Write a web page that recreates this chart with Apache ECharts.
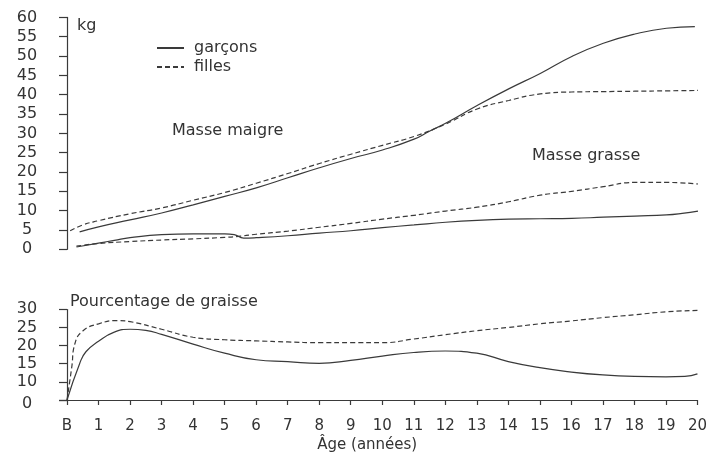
<!DOCTYPE html>
<html><head><meta charset="utf-8">
<script src="https://cdn.jsdelivr.net/npm/echarts@6/dist/echarts.min.js"></script>
<style>html,body{margin:0;padding:0;background:#fff}#c{width:710px;height:454px}</style>
</head><body><div id="c"></div>
<script>
// x tick labels (age in years, B = birth)
const xTickLabels = ['B','1','2','3','4','5','6','7','8','9','10','11','12','13','14','15','16','17','18','19','20'];
// bottom y tick labels shown (axis is broken between 0 and 10)
const pctTickLabels = ['0','10','15','20','25','30'];

// Masse maigre (kg)
const maigreGarconsAges = [0.4,1,2,3,4,5,6,7,8,9,10,11,11.5,12,13,14,15,16,17,18,19,19.9];
const maigreGarcons     = [4.5,5.8,7.6,9.4,11.5,13.7,15.9,18.5,21.1,23.5,25.7,28.5,30.6,32.6,37.2,41.5,45.5,49.9,53.3,55.7,57.2,57.6];
const maigreFillesAges  = [0.1,0.5,1,2,3,4,5,6,7,8,9,10,11,12,13,14,15,16,17,18,19,20];
const maigreFilles      = [4.8,6.3,7.4,9.2,10.7,12.7,14.7,17.1,19.6,22.2,24.6,26.9,29.2,32.4,36.3,38.5,40.2,40.7,40.8,40.9,41.0,41.1];

// Masse grasse (kg)
const grasseGarconsAges = [0.3,1,1.5,2,3,4,5,5.3,5.6,6,7,8,9,10,11,12,13,14,15,16,17,18,19,19.5,20];
const grasseGarcons     = [0.6,1.6,2.3,3.0,3.8,4.0,4.0,3.8,2.9,3.0,3.5,4.2,4.8,5.6,6.3,7.0,7.5,7.8,7.9,8.0,8.3,8.6,8.9,9.3,9.9];
const grasseFillesAges  = [0.3,1,2,3,4,5,5.5,6,7,8,9,10,11,12,13,14,15,16,17,18,19,20];
const grasseFilles      = [0.8,1.5,2.0,2.4,2.7,3.1,3.4,3.9,4.7,5.7,6.7,7.8,8.8,9.9,10.9,12.3,14.0,15.0,16.2,17.3,17.3,16.9];

// Pourcentage de graisse (%)
const pctGarconsAges = [0,0.4,0.6,1,1.5,2,2.5,3,4,5,6,7,8,9,10,11,12,13,14,15,16,17,18,19,19.6,20];
const pctGarcons     = [0,15,18.3,21.2,23.7,24.5,24.2,23.1,20.4,17.9,16.1,15.6,15.1,15.9,17.1,18.1,18.5,17.9,15.6,13.9,12.7,11.9,11.5,11.4,11.5,12.2];
const pctFillesAges  = [0,0.15,0.25,0.5,1,1.6,2,3,4,5,6,7,8,9,10,11,12,13,14,15,16,17,18,19,20];
const pctFilles      = [0,14,20.5,24,26,26.9,26.6,24.5,22.3,21.6,21.3,21.0,20.8,20.8,20.8,21.8,23.0,24.1,25.0,26.0,26.8,27.7,28.5,29.3,29.7];

const zip = (a, b) => a.map((x, i) => [x, b[i]]);
const INK = '#3a3a3a';
const FONT = 'DejaVu Sans';
const solid = {color: INK, width: 1.2, type: 'solid'};
const dashed = {color: INK, width: 1.2, type: [5, 3]};
function line(name, data, ls, xi, yi) {
  return {name, type: 'line', data, xAxisIndex: xi, yAxisIndex: yi, symbol: 'none',
    smooth: 0.5, lineStyle: ls, itemStyle: {color: INK}, silent: true};
}

const chart = echarts.init(document.getElementById('c'));
chart.setOption({
  backgroundColor: '#fff',
  animation: false,
  textStyle: {fontFamily: FONT, color: '#333'},
  grid: [
    {left: 67, right: 12, top: 17.4, height: 231.9},
    {left: 67, right: 12, top: 309.3, height: 94}
  ],
  legend: {
    data: ['garçons', 'filles'], orient: 'vertical', left: 156, top: 40,
    itemWidth: 27, itemHeight: 14, itemGap: 3, padding: 0,
    itemStyle: {color: 'rgba(0,0,0,0)', borderWidth: 0, opacity: 0},
    textStyle: {fontFamily: FONT, fontSize: 16, color: '#333', padding: [0, 0, 0, 5]}
  },
  xAxis: [
    {gridIndex: 0, type: 'value', min: 0, max: 20, interval: 1, show: false},
    {gridIndex: 1, type: 'value', min: 0, max: 20, interval: 1,
      axisLine: {lineStyle: {color: INK, width: 1.2}},
      axisTick: {length: 5, lineStyle: {color: INK, width: 1.2}},
      axisLabel: {fontSize: 15, color: '#333', margin: 19, formatter: v => xTickLabels[v] ?? ''},
      splitLine: {show: false},
      name: 'Âge (années)', nameLocation: 'middle', nameGap: 38,
      nameTextStyle: {fontSize: 15, color: '#333', padding: [0, 30, 0, 0]}}
  ],
  yAxis: [
    {gridIndex: 0, type: 'value', min: 0, max: 60, interval: 5, offset: 9,
      axisLine: {show: true, lineStyle: {color: INK, width: 1.2}},
      axisTick: {show: true, length: 8, lineStyle: {color: INK, width: 1.2}},
      axisLabel: {fontSize: 16, color: '#333', align: 'center', margin: 31},
      splitLine: {show: false}},
    {gridIndex: 1, type: 'value', min: 0, max: 30, interval: 5, offset: 17,
      breaks: [{start: 0, end: 5, gap: 0}],
      breakArea: {show: false},
      axisLine: {show: true, lineStyle: {color: INK, width: 1.2}},
      axisTick: {show: true, length: 8, lineStyle: {color: INK, width: 1.2}},
      axisLabel: {fontSize: 16, color: '#333', align: 'center', margin: 23,
        formatter: v => pctTickLabels.includes(String(Math.round(v * 1000) / 1000)) ? String(v) : ''},
      splitLine: {show: false}}
  ],
  graphic: [
    {type: 'text', left: 77, top: 18, style: {text: 'kg', font: '16px "DejaVu Sans"', fill: '#333'}},
    {type: 'text', left: 172, top: 123, style: {text: 'Masse maigre', font: '16px "DejaVu Sans"', fill: '#333'}},
    {type: 'text', left: 532, top: 148, style: {text: 'Masse grasse', font: '16px "DejaVu Sans"', fill: '#333'}},
    {type: 'text', left: 70, top: 294, style: {text: 'Pourcentage de graisse', font: '16px "DejaVu Sans"', fill: '#333'}}
  ],
  series: [
    line('garçons', zip(maigreGarconsAges, maigreGarcons), solid, 0, 0),
    line('filles', zip(maigreFillesAges, maigreFilles), dashed, 0, 0),
    line('garçons', zip(grasseGarconsAges, grasseGarcons), solid, 0, 0),
    line('filles', zip(grasseFillesAges, grasseFilles), dashed, 0, 0),
    line('garçons', zip(pctGarconsAges, pctGarcons), solid, 1, 1),
    line('filles', zip(pctFillesAges, pctFilles), dashed, 1, 1)
  ]
});
</script></body></html>
